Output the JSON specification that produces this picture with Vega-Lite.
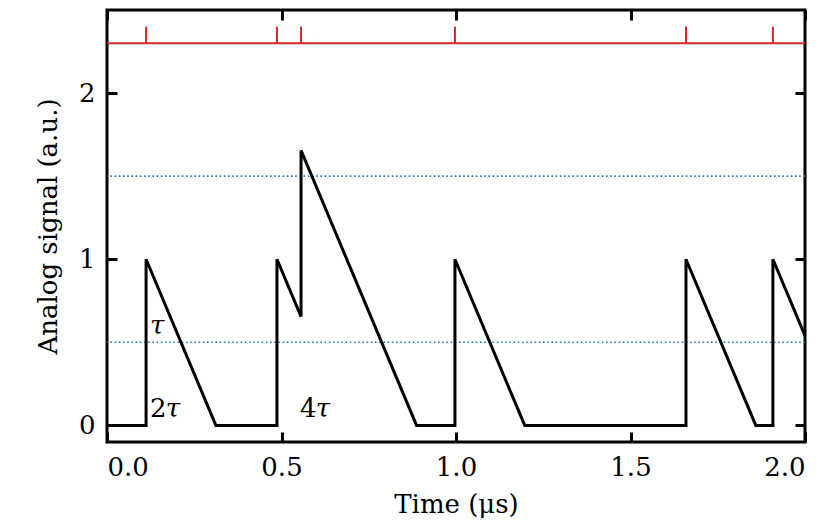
{
  "$schema": "https://vega.github.io/schema/vega-lite/v6.json",
  "width": 698,
  "height": 432,
  "autosize": {"type": "none"},
  "padding": {"left": 107, "top": 10, "right": 25, "bottom": 78},
  "background": "white",
  "config": {
    "view": {"stroke": "black", "strokeWidth": 3},
    "font": "DejaVu Serif",
    "axis": {
      "grid": false,
      "domain": false,
      "tickSize": -10,
      "tickWidth": 3,
      "tickColor": "black",
      "labelFont": "DejaVu Serif",
      "labelFontSize": 26,
      "labelColor": "black",
      "titleFont": "DejaVu Serif",
      "titleFontSize": 26,
      "titleFontWeight": "normal",
      "titleColor": "black"
    }
  },
  "datasets": {
    "signal": [
      {"i": 0, "t": 0.0, "v": 0.0},
      {"i": 1, "t": 0.112, "v": 0.0},
      {"i": 2, "t": 0.112, "v": 1.0},
      {"i": 3, "t": 0.312, "v": 0.0},
      {"i": 4, "t": 0.487, "v": 0.0},
      {"i": 5, "t": 0.487, "v": 1.0},
      {"i": 6, "t": 0.556, "v": 0.655},
      {"i": 7, "t": 0.556, "v": 1.655},
      {"i": 8, "t": 0.887, "v": 0.0},
      {"i": 9, "t": 0.997, "v": 0.0},
      {"i": 10, "t": 0.997, "v": 1.0},
      {"i": 11, "t": 1.197, "v": 0.0},
      {"i": 12, "t": 1.659, "v": 0.0},
      {"i": 13, "t": 1.659, "v": 1.0},
      {"i": 14, "t": 1.859, "v": 0.0},
      {"i": 15, "t": 1.908, "v": 0.0},
      {"i": 16, "t": 1.908, "v": 1.0},
      {"i": 17, "t": 2.0, "v": 0.54}
    ],
    "events": [
      {"t": 0.112, "y": 2.3, "y2": 2.4},
      {"t": 0.487, "y": 2.3, "y2": 2.4},
      {"t": 0.556, "y": 2.3, "y2": 2.4},
      {"t": 0.997, "y": 2.3, "y2": 2.4},
      {"t": 1.659, "y": 2.3, "y2": 2.4},
      {"t": 1.908, "y": 2.3, "y2": 2.4}
    ],
    "baseline": [{"y": 2.3}],
    "thresholds": [{"y": 0.5}, {"y": 1.5}],
    "digits": [
      {"t": 0.123, "v": 0.1, "text": "2"},
      {"t": 0.553, "v": 0.1, "text": "4"}
    ],
    "taus": [
      {"t": 0.123, "v": 0.6, "text": "τ"},
      {"t": 0.168, "v": 0.1, "text": "τ"},
      {"t": 0.598, "v": 0.1, "text": "τ"}
    ]
  },
  "resolve": {"axis": {"x": "independent", "y": "independent"}},
  "layer": [
    {
      "data": {"name": "thresholds"},
      "mark": {"type": "rule", "color": "#1f77b4", "strokeWidth": 1.6, "strokeDash": [1.6, 2.6]},
      "encoding": {
        "y": {
          "field": "y", "type": "quantitative",
          "scale": {"domain": [-0.1, 2.5], "nice": false, "zero": false},
          "axis": {"orient": "right", "values": [0, 1, 2], "labels": false, "title": null}
        }
      }
    },
    {
      "data": {"name": "baseline"},
      "mark": {"type": "rule", "color": "#d62728", "strokeWidth": 1.8},
      "encoding": {
        "y": {"field": "y", "type": "quantitative", "axis": null}
      }
    },
    {
      "data": {"name": "events"},
      "mark": {"type": "rule", "color": "#d62728", "strokeWidth": 2},
      "encoding": {
        "x": {
          "field": "t", "type": "quantitative",
          "scale": {"domain": [0, 2], "nice": false, "zero": false},
          "axis": {"orient": "top", "values": [0, 0.5, 1, 1.5, 2], "labels": false, "title": null}
        },
        "y": {"field": "y", "type": "quantitative", "axis": null},
        "y2": {"field": "y2"}
      }
    },
    {
      "data": {"name": "signal"},
      "mark": {"type": "line", "color": "black", "strokeWidth": 3},
      "encoding": {
        "x": {
          "field": "t", "type": "quantitative",
          "axis": {"orient": "bottom", "values": [0, 0.5, 1, 1.5, 2], "format": ".1f", "labelPadding": 22, "title": "Time (μs)", "titlePadding": 11}
        },
        "y": {
          "field": "v", "type": "quantitative",
          "axis": {"orient": "left", "values": [0, 1, 2], "format": "d", "labelPadding": 22, "title": "Analog signal (a.u.)", "titlePadding": 17}
        },
        "order": {"field": "i", "type": "quantitative"}
      }
    },
    {
      "data": {"name": "digits"},
      "mark": {"type": "text", "align": "left", "baseline": "middle", "font": "DejaVu Serif", "fontSize": 26, "color": "black"},
      "encoding": {
        "x": {"field": "t", "type": "quantitative", "axis": null},
        "y": {"field": "v", "type": "quantitative", "axis": null},
        "text": {"field": "text"}
      }
    },
    {
      "data": {"name": "taus"},
      "mark": {"type": "text", "align": "left", "baseline": "middle", "font": "DejaVu Serif", "fontSize": 26, "fontStyle": "italic", "color": "black"},
      "encoding": {
        "x": {"field": "t", "type": "quantitative", "axis": null},
        "y": {"field": "v", "type": "quantitative", "axis": null},
        "text": {"field": "text"}
      }
    }
  ]
}
